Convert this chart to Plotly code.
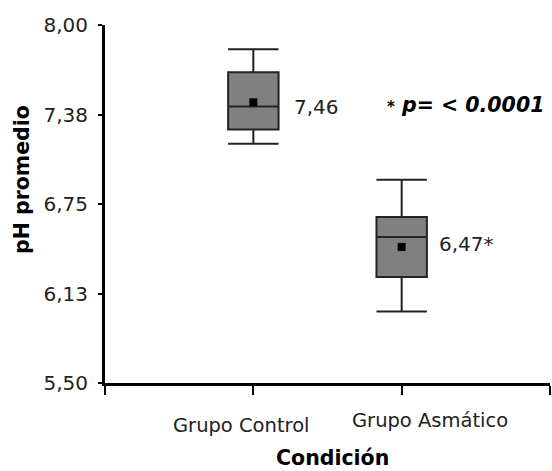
import plotly.graph_objects as go

categories = ["Grupo Control", "Grupo Asmático"]
positions = [0, 1]
q1 = [7.27, 6.24]
medians = [7.43, 6.52]
q3 = [7.67, 6.66]
lower = [7.17, 6.00]
upper = [7.83, 6.92]
means = [7.46, 6.45]
mean_labels = ["7,46", "6,47*"]
y_tickvals = [5.5, 6.125, 6.75, 7.375, 8.0]
y_ticktext = ["5,50", "6,13", "6,75", "7,38", "8,00"]

FONT = "DejaVu Sans"
fig = go.Figure()
for i in range(2):
    fig.add_trace(go.Box(
        x=[positions[i]], q1=[q1[i]], median=[medians[i]], q3=[q3[i]],
        lowerfence=[lower[i]], upperfence=[upper[i]],
        width=0.34, whiskerwidth=1,
        fillcolor="#808080", line=dict(color="#222222", width=2),
        showlegend=False, hoverinfo="skip"))
fig.add_trace(go.Scatter(
    x=positions, y=means, mode="markers",
    marker=dict(symbol="square", size=8, color="black"),
    showlegend=False, hoverinfo="skip"))

ann = []
shifts = [(-12, -42), (28, -37)]
for i, c in enumerate(categories):
    ann.append(dict(x=positions[i], y=0, xref="x", yref="paper", text=c,
                    showarrow=False, xanchor="center", yanchor="middle",
                    xshift=shifts[i][0], yshift=shifts[i][1],
                    font=dict(family=FONT, size=19.5, color="#222")))
lab_shift = [(39, -5), (35, 3)]
for i, t in enumerate(mean_labels):
    ann.append(dict(x=positions[i], y=means[i], xref="x", yref="y", text=t,
                    showarrow=False, xanchor="left", yanchor="middle",
                    xshift=lab_shift[i][0], yshift=lab_shift[i][1],
                    font=dict(family=FONT, size=20, color="#222")))
ann.append(dict(x=0.629, y=0.777, xref="paper", yref="paper",
                text="<b><i><span style='font-size:15px'>*</span> p= &lt; 0.0001</i></b>",
                showarrow=False, xanchor="left", yanchor="middle",
                font=dict(family=FONT, size=20.5, color="black")))
ann.append(dict(x=0.5, y=0, xref="paper", yref="paper", text="<b>Condición</b>",
                showarrow=False, xanchor="center", yanchor="middle",
                xshift=5, yshift=-75, font=dict(family=FONT, size=20.5, color="black")))
ann.append(dict(x=0, y=0.567, xref="paper", yref="paper", text="<b>pH promedio</b>",
                showarrow=False, xanchor="center", yanchor="middle", textangle=-90,
                xshift=-83, font=dict(family=FONT, size=20.5, color="black")))

fig.update_layout(
    width=552, height=471,
    margin=dict(l=105, r=2, t=25, b=88),
    plot_bgcolor="white", paper_bgcolor="white",
    boxmode="overlay",
    annotations=ann,
    xaxis=dict(range=[-1, 2], tickvals=[-1, 0, 1, 2], ticktext=["", "", "", ""],
               showgrid=False, zeroline=False, showline=True, linecolor="black",
               linewidth=3, ticks="outside", ticklen=9, tickwidth=2, tickcolor="black"),
    yaxis=dict(range=[5.5, 8.0], tickvals=y_tickvals, ticktext=y_ticktext,
               showgrid=False, zeroline=False, showline=True, linecolor="black",
               linewidth=3, ticks="outside", ticklen=4, tickwidth=2, tickcolor="black",
               ticklabelstandoff=6,
               tickfont=dict(family=FONT, size=20, color="#222")),
)
fig.write_html("out.html")
